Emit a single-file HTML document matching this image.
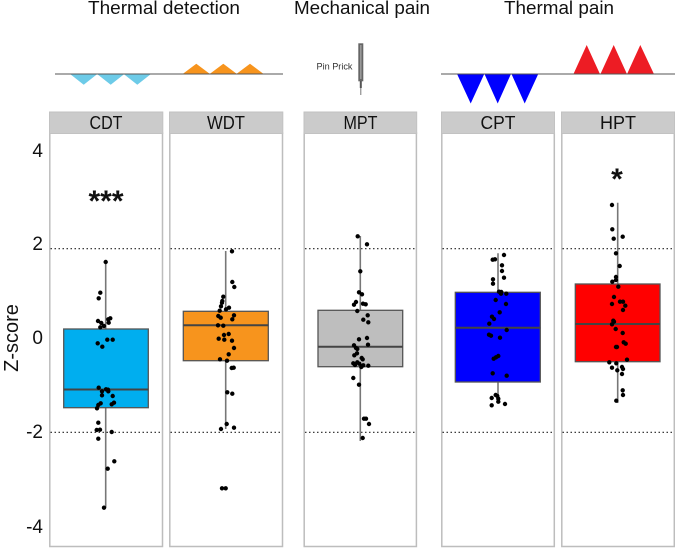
<!DOCTYPE html>
<html><head><meta charset="utf-8"><style>html,body{margin:0;padding:0;background:#fff}svg{display:block}text{font-family:"Liberation Sans",sans-serif;fill:#111}</style></head><body>
<svg width="675" height="548" viewBox="0 0 675 548" xmlns="http://www.w3.org/2000/svg">
<g font-size="18.5" text-anchor="middle">
<text x="164" y="14" textLength="152" lengthAdjust="spacingAndGlyphs">Thermal detection</text>
<text x="362" y="14" textLength="136" lengthAdjust="spacingAndGlyphs">Mechanical pain</text>
<text x="559" y="14" textLength="110" lengthAdjust="spacingAndGlyphs">Thermal pain</text>
</g>
<!-- stimulus lines -->
<path d="M55 74H283M441 74H675" stroke="#555" stroke-width="1.1"/>
<g fill="#6dcbe8"><path d="M70.7 74.5H96.7L83.7 84.7ZM97.7 74.5H123.7L110.7 84.7ZM124.3 74.5H150.3L137.3 84.7Z"/></g>
<g fill="#f7941d"><path d="M183.3 73.5H209.3L196.3 63.7ZM210.3 73.5H236.3L223.3 63.7ZM237 73.5H263L250 63.7Z"/></g>
<path d="M457.3 74.5H484L470.7 103.5ZM484.7 74.5H510.7L497.7 103.5ZM511.7 74.5H538L524.7 103.5Z" fill="#0000ff"/>
<path d="M573.7 73.5H599.7L586.7 45ZM600.7 73.5H626.7L613.7 45ZM627.3 73.5H653.7L640.3 45Z" fill="#ed1c24"/>
<!-- pin -->
<text x="334.5" y="69.5" font-size="9.5" text-anchor="middle" textLength="36" lengthAdjust="spacingAndGlyphs" style="fill:#333">Pin Prick</text>
<rect x="358.3" y="43.3" width="5" height="38" fill="#666"/>
<rect x="360" y="45" width="1.6" height="34" fill="#999"/>
<rect x="359.8" y="81" width="2" height="7" fill="#555"/>
<rect x="360.3" y="88" width="1" height="7" fill="#777"/>
<!-- panels -->
<g fill="#fff" stroke="#bdbdbd" stroke-width="1.5">
<rect x="49.8" y="133" width="112.7" height="413.5"/>
<rect x="169.8" y="133" width="112.7" height="413.5"/>
<rect x="304.2" y="133" width="112.2" height="413.5"/>
<rect x="441.8" y="133" width="112.5" height="413.5"/>
<rect x="561.8" y="133" width="112.5" height="413.5"/>
</g>
<g fill="#cbcbcb" stroke="#c2c2c2" stroke-width="1">
<rect x="49.5" y="112" width="113.3" height="21.5"/>
<rect x="169.5" y="112" width="113.3" height="21.5"/>
<rect x="304" y="112" width="112.7" height="21.5"/>
<rect x="441.5" y="112" width="113" height="21.5"/>
<rect x="561.5" y="112" width="113" height="21.5"/>
</g>
<g font-size="18.5" text-anchor="middle">
<text x="106" y="129" textLength="33" lengthAdjust="spacingAndGlyphs">CDT</text>
<text x="226" y="129" textLength="38" lengthAdjust="spacingAndGlyphs">WDT</text>
<text x="360.5" y="129" textLength="34" lengthAdjust="spacingAndGlyphs">MPT</text>
<text x="498" y="129" textLength="35" lengthAdjust="spacingAndGlyphs">CPT</text>
<text x="618" y="129" textLength="36" lengthAdjust="spacingAndGlyphs">HPT</text>
</g>
<!-- gridlines -->
<path d="M50.5 248.7H162M170.5 248.7H282M305 248.7H416M442.5 248.7H554M562.5 248.7H674M50.5 432.3H162M170.5 432.3H282M305 432.3H416M442.5 432.3H554M562.5 432.3H674" stroke="#222" stroke-width="1.1" stroke-dasharray="1.5 2.5" fill="none"/>
<!-- whiskers -->
<path d="M105.7 262V507.7M225.7 251V429M360.3 236V441M498 253.3V397M617.7 202.7V403" stroke="#777" stroke-width="1.6" fill="none"/>
<!-- boxes -->
<g stroke="#555" stroke-width="1.3">
<rect x="63.7" y="329" width="84.6" height="78.7" fill="#00aeef"/>
<rect x="183.3" y="311.3" width="85" height="49.4" fill="#f7941d"/>
<rect x="318" y="310.3" width="84.7" height="56.4" fill="#bebebe"/>
<rect x="455.3" y="292.3" width="85" height="89.7" fill="#0000ff"/>
<rect x="575.3" y="284" width="84.7" height="77.7" fill="#ff0000"/>
</g>
<path d="M63.7 389.5H148.3M183.3 325.3H268.3M318 346.7H402.7M455.3 327.7H540.3M575.3 324H660" stroke="#444" stroke-width="2" fill="none"/>
<!-- points -->
<path stroke="#000" stroke-width="4.4" stroke-linecap="round" fill="none" d="
M105.7 262h0M100.3 292.7h0M98.7 298.3h0M98 321h0M101.3 323h0M104 326h0M100.3 327.3h0M108.3 319.3h0M110.3 318.3h0M108.7 322.7h0M107.3 339.7h0M112.7 339.7h0M97.7 343.3h0M102.3 346.7h0M98.7 387.7h0M106 389.3h0M108 389.7h0M102 391.3h0M108.3 391.3h0M102 395.3h0M112.7 396h0M114 402.7h0M111.7 404.3h0M100.7 403.3h0M98.3 405h0M97 408.3h0M98.3 422.7h0M96.7 430h0M100 429.7h0M111.7 432h0M98.3 438.7h0M114.3 461.3h0M107.7 468.7h0M104 507.7h0
M232 251.3h0M232.3 282h0M234.3 287h0M223.3 296.7h0M222.3 301h0M222 302.7h0M221 306.3h0M229 307.7h0M226 309.3h0M219.7 310.7h0M234 315.3h0M218.3 316h0M220.7 317.7h0M232.3 319.3h0M218 325.3h0M223.3 325.7h0M228.7 334h0M224 335h0M218.7 338.7h0M224.3 339.7h0M232 340.7h0M234 348h0M228.7 354.3h0M220 359.3h0M227 360.7h0M231.7 368h0M233.7 367.7h0M227.3 392.3h0M232.3 393.7h0M226.7 424h0M234 427.7h0M221 429h0M222 488.3h0M225.7 488.3h0
M357.7 236.3h0M367 244.3h0M360.3 271.3h0M359 292.3h0M362 294.3h0M356 302h0M354 304.7h0M363 303.7h0M365.7 304.3h0M357.3 311h0M367.7 315.3h0M363.3 319.7h0M368.3 322.3h0M359 339.3h0M367 338h0M368 344.7h0M354 345.3h0M356 348h0M357.3 349h0M357 353.3h0M354.3 355.3h0M361.7 358h0M362.7 359.3h0M353.3 363.3h0M357.3 362.3h0M359.3 363.7h0M355 365h0M363.3 365.3h0M368.3 365.7h0M361.3 367h0M353.3 378h0M359 384.7h0M364 418.7h0M366 418.7h0M369 424h0M362.7 438h0
M504 255h0M492.7 259.7h0M495 259.3h0M502 265.3h0M502 271h0M504 277.7h0M493 279.3h0M493 283.7h0M499 291.7h0M501.3 292h0M501 293.7h0M506.3 293.7h0M495.7 300h0M506 304h0M499.7 312.3h0M492 316.7h0M494 319h0M489.3 323.7h0M506.7 330h0M489 334.7h0M491 335.7h0M500 337.7h0M498.3 356h0M496 357.3h0M493.7 358.7h0M492.7 373.3h0M506.7 375.7h0M495.7 395h0M497.3 396h0M491.7 398h0M498.3 398.7h0M498.3 401.7h0M505 404h0M491.7 405.3h0
M612 205h0M612.3 229.3h0M613.7 238.7h0M622.7 236.7h0M616 253.3h0M619.7 266h0M616 277h0M616 280h0M612.3 281.7h0M618.3 286.7h0M614 297h0M620 301.7h0M623 301.7h0M612 304h0M625.3 305.7h0M623 310h0M613.3 320.7h0M614 321.7h0M612 324.3h0M615.7 329h0M622.7 333h0M623.7 342.3h0M625.7 343.7h0M616 347h0M617 347h0M627 359.7h0M609.3 362.3h0M616.3 363.3h0M622 367h0M612 367.7h0M623 369h0M617.3 370.3h0M622 374h0M622.7 390.3h0M623 395h0M616.3 400.7h0"/>
<!-- significance -->
<g font-size="30" text-anchor="middle" font-weight="bold">
<text x="106" y="211">***</text>
<text x="617" y="189">*</text>
</g>
<!-- axis -->
<g font-size="19" text-anchor="end">
<text x="43" y="157">4</text>
<text x="43" y="250">2</text>
<text x="43" y="344">0</text>
<text x="43" y="438">-2</text>
<text x="43" y="533">-4</text>
</g>
<text transform="translate(18 338) rotate(-90)" font-size="20" text-anchor="middle">Z-score</text>
</svg>
</body></html>
